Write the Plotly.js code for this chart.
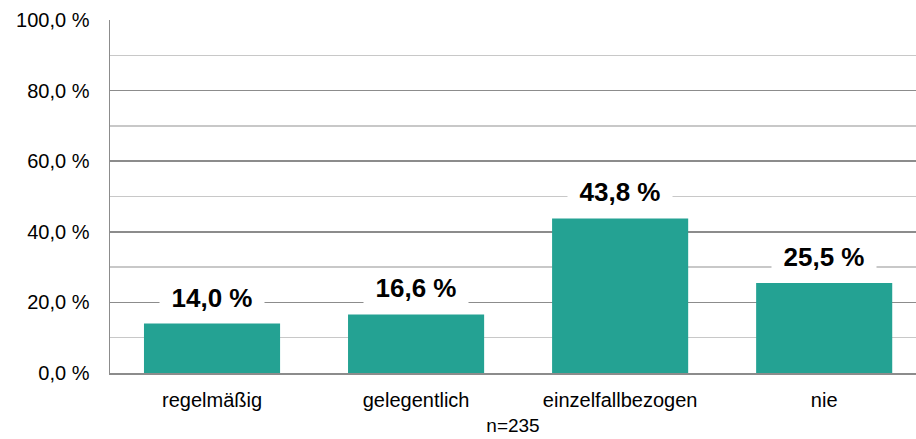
<!DOCTYPE html>
<html>
<head>
<meta charset="utf-8">
<script src="https://cdn.plot.ly/plotly-3.0.1.min.js"></script>
<style>html,body{margin:0;padding:0;background:#fff;}#chart{width:916px;height:439px;}</style>
</head>
<body>
<div id="chart"></div>
<script>
const categories = ["regelmäßig", "gelegentlich", "einzelfallbezogen", "nie"];
const values = [14.0, 16.6, 43.8, 25.5];
const valueLabels = ["14,0 %", "16,6 %", "43,8 %", "25,5 %"];
const yTickVals = [0, 20, 40, 60, 80, 100];
const yTickText = ["0,0 %", "20,0 %", "40,0 %", "60,0 %", "80,0 %", "100,0 %"];
const footnote = "n=235";

const trace = {
  type: "bar",
  x: categories,
  y: values,
  marker: { color: "#24A293", line: { width: 0 } },
  hoverinfo: "none"
};

const annotations = categories.map((c, i) => ({
  x: c, y: values[i], xref: "x", yref: "y",
  text: "<b>" + valueLabels[i] + "</b>",
  showarrow: false,
  yanchor: "middle",
  yshift: 26,
  bgcolor: "#ffffff",
  width: 102,
  borderpad: 1,
  font: { family: "Liberation Sans, Arial, sans-serif", size: 26, color: "#000" }
}));

const layout = {
  width: 916, height: 439,
  margin: { l: 110, r: 0, t: 20, b: 66 },
  paper_bgcolor: "#fff", plot_bgcolor: "#fff",
  showlegend: false,
  bargap: 0.333,
  font: { family: "Liberation Sans, Arial, sans-serif", size: 20, color: "#000" },
  xaxis: {
    type: "category",
    range: [-0.5, 3.45],
    showgrid: false,
    showline: true, linecolor: "#8c8c8c", linewidth: 1.5,
    ticks: "", ticklabelstandoff: 8,
    tickfont: { size: 20 },
    title: { text: footnote, font: { size: 19 }, standoff: 9 },
    fixedrange: true
  },
  yaxis: {
    range: [0, 100],
    tickvals: yTickVals, ticktext: yTickText,
    showgrid: true, gridcolor: "#8c8c8c", gridwidth: 1.5,
    minor: { dtick: 10, showgrid: true, gridcolor: "#c8c8c8", gridwidth: 1.5 },
    showline: true, linecolor: "#8c8c8c", linewidth: 1.5,
    zeroline: false,
    ticks: "", ticklabelstandoff: 15,
    tickfont: { size: 20 },
    fixedrange: true
  },
  annotations: annotations
};

Plotly.newPlot("chart", [trace], layout, { displayModeBar: false, staticPlot: true });
</script>
</body>
</html>
